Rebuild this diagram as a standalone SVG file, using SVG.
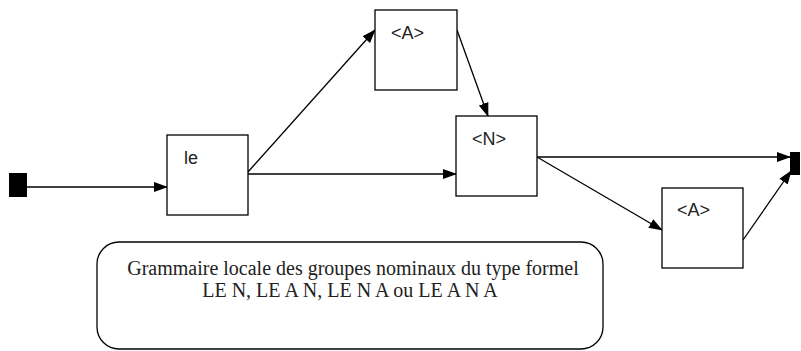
<svg xmlns="http://www.w3.org/2000/svg" width="801" height="351" viewBox="0 0 801 351">
<style>
.box{fill:#fff;stroke:#000;stroke-width:1.3}
.term{fill:#000}
.lbl{font-family:"Liberation Sans",Arial,sans-serif;font-size:18px;fill:#222}
.edge{stroke:#000;stroke-width:1.3;fill:none;marker-end:url(#ah)}
.note{font-family:"Liberation Serif",serif;font-size:20px;fill:#222;text-anchor:middle}
</style>
<defs>
<marker id="ah" markerUnits="userSpaceOnUse" markerWidth="14" markerHeight="12" refX="13" refY="5" orient="auto" viewBox="0 0 14 10">
<path d="M0,0 L14,5 L0,10 z" fill="#000"/>
</marker>
</defs>
<rect width="801" height="351" fill="#fff"/>
<g id="connectors">
<line class="edge" x1="27" y1="187" x2="167" y2="187"/>
<line class="edge" x1="248" y1="172" x2="375" y2="30"/>
<line class="edge" x1="248" y1="174" x2="456" y2="174"/>
<line class="edge" x1="457" y1="30" x2="488" y2="116"/>
<line class="edge" x1="537" y1="157" x2="790" y2="157"/>
<line class="edge" x1="537" y1="157" x2="662" y2="230"/>
<line class="edge" x1="743" y1="240" x2="791" y2="171"/>
</g>
<g id="start"><rect class="term" x="9" y="173" width="18" height="24"/></g>
<g id="end"><rect class="term" x="790" y="152" width="10" height="23"/></g>
<g id="le"><rect class="box" x="167" y="135" width="81" height="80"/><text class="lbl" x="184" y="164">le</text></g>
<g id="A1"><rect class="box" x="375" y="10" width="82" height="80"/><text class="lbl" x="391" y="39">&lt;A&gt;</text></g>
<g id="N"><rect class="box" x="456" y="116" width="81" height="80"/><text class="lbl" x="472" y="145">&lt;N&gt;</text></g>
<g id="A2"><rect class="box" x="662" y="188" width="81" height="80"/><text class="lbl" x="677" y="216">&lt;A&gt;</text></g>
<g id="note"><rect class="box" x="97" y="242" width="506" height="107" rx="22"/>
<text class="note" x="353" y="275">Grammaire locale des groupes nominaux du type formel</text>
<text class="note" x="350" y="297">LE N, LE A N, LE N A ou LE A N A</text></g>
</svg>
